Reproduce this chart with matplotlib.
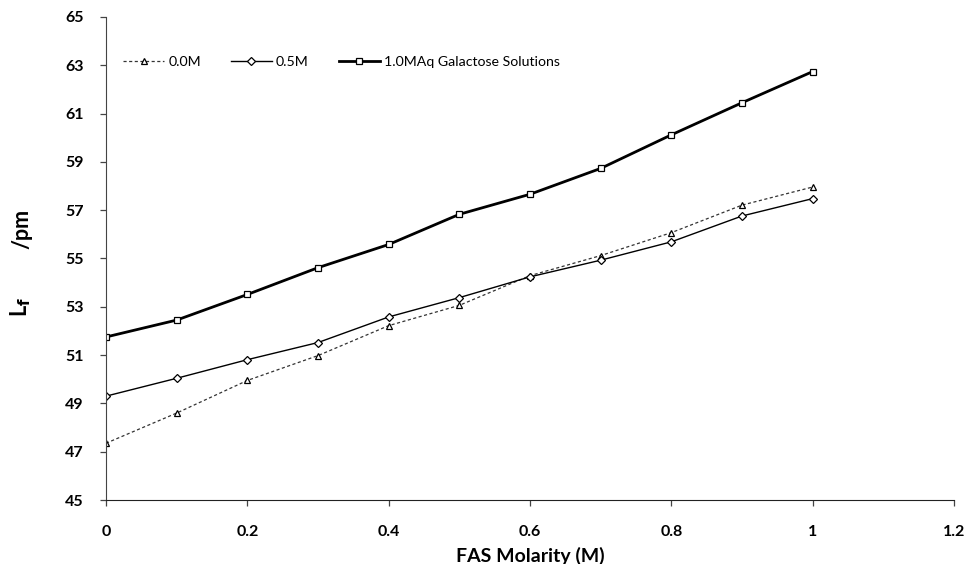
import matplotlib
matplotlib.use('Agg')
from matplotlib import pyplot as plt

plt.rcParams['font.family'] = ['Lato', 'DejaVu Sans']

molarity = [0, 0.1, 0.2, 0.3, 0.4, 0.5, 0.6, 0.7, 0.8, 0.9, 1.0]
lf_00 = [47.35, 48.60, 49.95, 50.98, 52.22, 53.06, 54.29, 55.12, 56.07, 57.21, 57.96]
lf_05 = [49.30, 50.04, 50.81, 51.52, 52.58, 53.38, 54.24, 54.93, 55.69, 56.76, 57.48]
lf_10 = [51.75, 52.45, 53.51, 54.62, 55.58, 56.83, 57.66, 58.73, 60.12, 61.45, 62.74]

xticks = [0, 0.2, 0.4, 0.6, 0.8, 1, 1.2]
xtick_labels = ['0', '0.2', '0.4', '0.6', '0.8', '1', '1.2']
yticks = [45, 47, 49, 51, 53, 55, 57, 59, 61, 63, 65]

fig = plt.figure(figsize=(9.67, 5.64), dpi=100)
ax = fig.add_axes([106/967, 64/564, 848/967, 483/564])

ax.plot(molarity, lf_00, color='#333333', lw=0.9, ls=(0, (2.5, 2)),
        marker='^', ms=4.5, mfc='white', mec='black', mew=0.9, label='0.0M')
ax.plot(molarity, lf_05, color='black', lw=1.0,
        marker='D', ms=3.8, mfc='white', mec='black', mew=0.9, label='0.5M')
ax.plot(molarity, lf_10, color='black', lw=2.0,
        marker='s', ms=5, mfc='white', mec='black', mew=0.9,
        label='1.0MAq Galactose Solutions')

ax.set_xlim(0, 1.2)
ax.set_ylim(45, 65)
ax.set_xticks(xticks)
ax.set_xticklabels(xtick_labels)
ax.set_yticks(yticks)
for s in ['top', 'right']:
    ax.spines[s].set_visible(False)
ax.spines['left'].set_color('#444444')
ax.spines['bottom'].set_color('#222222')
ax.tick_params(direction='out', length=4, width=0.9, color='#444444',
               labelsize=11.5, pad=14)
ax.tick_params(axis='y', pad=12)
for lab in ax.get_xticklabels() + ax.get_yticklabels():
    lab.set_fontweight('bold')

ax.set_xlabel('FAS Molarity (M)', fontsize=14, fontweight='bold', labelpad=6)
fig.text(0.021, (564-307)/564, 'L$_\\mathbf{f}$', rotation=90, fontsize=15.5,
         fontweight='bold', ha='center', va='center')
fig.text(0.023, (564-229)/564, '/pm', rotation=90, fontsize=15.5,
         fontweight='bold', ha='center', va='center')

ax.legend(loc='upper left', bbox_to_anchor=(0.005, 0.945), ncol=3, frameon=False,
          fontsize=10.2, handlelength=2.9, columnspacing=2.1, handletextpad=0.3)

plt.savefig('out.png', dpi=100)
